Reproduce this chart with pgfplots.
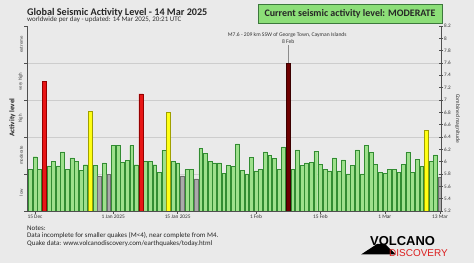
\documentclass[border=0pt]{standalone}
\usepackage{fontspec}
\setmainfont{Carlito}
\newfontfamily\logofont{Liberation Sans}
\usepackage{pgfplots}
\pgfplotsset{compat=1.18}
\definecolor{bg}{RGB}{234,234,234}
\definecolor{gridc}{RGB}{205,205,205}
\definecolor{axisc}{RGB}{80,80,80}
\definecolor{gfill}{RGB}{158,224,140}
\definecolor{gdraw}{RGB}{50,140,50}
\definecolor{grfill}{RGB}{170,170,170}
\definecolor{grdraw}{RGB}{110,110,110}
\definecolor{rfill}{RGB}{232,22,22}
\definecolor{rdraw}{RGB}{150,0,0}
\definecolor{yfill}{RGB}{255,255,20}
\definecolor{ydraw}{RGB}{160,160,0}
\definecolor{drfill}{RGB}{110,0,0}
\definecolor{drdraw}{RGB}{60,0,0}
\definecolor{boxfill}{RGB}{140,222,120}
\definecolor{boxdraw}{RGB}{60,120,60}
\definecolor{logored}{RGB}{220,30,30}
\begin{document}
\begin{tikzpicture}
\useasboundingbox (0bp,0bp) rectangle (474bp,263bp);
\fill[bg] (0bp,0bp) rectangle (474bp,263bp);
% title
\node[anchor=base west, inner sep=0pt, font=\bfseries\fontsize{10.2}{11}\selectfont, text=black!85] at (27bp,247.5bp) {Global Seismic Activity Level - 14 Mar 2025};
\node[anchor=base west, inner sep=0pt, font=\fontsize{7}{8}\selectfont, text=black!80] at (27bp,241.3bp) {worldwide per day - updated: 14 Mar 2025, 20:21 UTC};
% status box
\draw[fill=boxfill, draw=boxdraw, line width=0.6bp] (258bp,240bp) rectangle (442bp,259bp);
\node[font=\bfseries\fontsize{10}{11}\selectfont, text=black!85] at (350bp,249.5bp) {Current seismic activity level: MODERATE};
% activity label
\node[rotate=90, font=\bfseries\fontsize{7.2}{8}\selectfont, text=black!85] at (12.5bp,145.5bp) {Activity level};
\begin{axis}[
  at={(27bp,52bp)}, anchor=south west, scale only axis,
  width=414bp, height=185bp,
  xmin=0.26, xmax=90.2, ymin=5.2, ymax=8.2,
  axis x line*=bottom, axis y line*=left,
  axis line style={axisc, line width=0.6bp},
  tick style={axisc, line width=0.5bp},
  tick align=outside, major tick length=2.5bp,
  xtick={2,19,33,50,64,78,90},
  xticklabels={15 Dec, 1 Jan 2025, 15 Jan 2025, 1 Feb, 15 Feb, 1 Mar, 13 Mar},
  xticklabel style={font=\fontsize{5.4}{6}\selectfont, text=black!80, inner sep=1bp},
  ytick={5.2,5.8,6.4,7.0,7.6}, yticklabels={},
  ymajorgrids, grid style={gridc, line width=0.5bp},
  extra y ticks={8.2}, extra y tick labels={}, extra y tick style={grid=none},
  clip mode=individual,
]
\addplot[ybar, bar width=0.84, fill=gfill, draw=gdraw, line width=0.45bp] coordinates {
(1,5.87)(2,6.08)(3,5.87)(5,5.93)(6,6.01)(7,5.93)(8,6.16)(9,5.87)(10,6.06)(11,6.01)(12,5.86)(13,5.95)(15,5.94)(17,5.98)(19,6.26)(20,6.27)(21,5.99)(22,6.02)(23,6.26)(24,5.95)(26,6.01)(27,6.01)(28,5.95)(29,5.83)(30,6.18)(32,6.01)(33,5.98)(35,5.87)(36,5.88)(38,6.21)(39,6.14)(40,6.01)(41,5.98)(42,5.98)(43,5.81)(44,5.94)(45,5.92)(46,6.29)(47,5.86)(48,5.80)(49,6.07)(50,5.85)(51,5.88)(52,6.16)(53,6.10)(54,6.05)(55,5.88)(56,6.24)(58,5.88)(59,6.19)(60,5.94)(61,5.98)(62,5.99)(63,6.17)(64,5.96)(65,5.87)(66,5.85)(67,6.06)(68,5.85)(69,6.03)(70,5.80)(71,5.94)(72,6.19)(73,5.80)(74,6.26)(75,6.15)(76,5.96)(77,5.83)(78,5.81)(79,5.87)(80,5.88)(81,5.83)(82,5.96)(83,6.15)(84,5.83)(85,6.04)(86,5.92)(88,6.01)(89,6.11)
};
\addplot[ybar, bar width=0.84, fill=grfill, draw=grdraw, line width=0.45bp] coordinates {
(16,5.76)(18,5.79)(34,5.77)(37,5.72)(90,5.75)
};
\addplot[ybar, bar width=0.84, fill=rfill, draw=rdraw, line width=0.45bp] coordinates {
(4,7.30)(25,7.10)
};
\addplot[ybar, bar width=0.84, fill=yfill, draw=ydraw, line width=0.45bp] coordinates {
(14,6.81)(31,6.80)(87,6.51)
};
\addplot[ybar, bar width=0.84, fill=drfill, draw=drdraw, line width=0.45bp] coordinates {
(57,7.60)
};
\draw[black!45, line width=0.6bp] (axis cs:57,7.6) -- (axis cs:57,7.89);
\node[font=\fontsize{5.6}{6}\selectfont, text=black!80, inner sep=0pt] at (axis cs:56.8,8.05) {M7.6 - 209 km SSW of George Town, Cayman Islands};
\node[font=\fontsize{5.6}{6}\selectfont, text=black!80, inner sep=0pt] at (axis cs:57,7.955) {8 Feb};
\foreach \yy/\lab in {5.5/low,6.1/moderate,6.7/high,7.3/very high,7.9/extreme} {
  \edef\temp{\noexpand\node[rotate=90, anchor=south, inner sep=0pt, font=\noexpand\fontsize{4.8}{5}\noexpand\selectfont, text=black!75] at ([xshift=-4bp]axis cs:0.26,\yy) {\lab};}
  \temp
}
\end{axis}
\begin{axis}[
  at={(27bp,52bp)}, anchor=south west, scale only axis,
  width=414bp, height=185bp,
  xmin=0.26, xmax=90.2, ymin=5.2, ymax=8.2,
  axis x line=none, axis y line*=right,
  axis line style={axisc, line width=0.6bp},
  tick style={axisc, line width=0.5bp},
  tick align=center, major tick length=4bp,
  ytick={5.2,5.4,5.6,5.8,6,6.2,6.4,6.6,6.8,7,7.2,7.4,7.6,7.8,8,8.2},
  yticklabel style={font=\fontsize{5.2}{6}\selectfont, text=black!80, inner sep=1bp},
  /pgf/number format/assume math mode=true,
  ylabel={Combined magnitude},
  ylabel style={rotate=180, font=\fontsize{5.6}{6}\selectfont, text=black!80},
]
\addplot[draw=none] coordinates {(1,5.2)};
\end{axis}
% notes
\node[anchor=base west, inner sep=0pt, font=\fontsize{7}{8}\selectfont, text=black!85] at (27bp,32.5bp) {Notes:};
\node[anchor=base west, inner sep=0pt, font=\fontsize{7}{8}\selectfont, text=black!85] at (27bp,25.3bp) {Data incomplete for smaller quakes (M<4), near complete from M4.};
\node[anchor=base west, inner sep=0pt, font=\fontsize{7}{8}\selectfont, text=black!85] at (27bp,17.1bp) {Quake data: www.volcanodiscovery.com/earthquakes/today.html};
% logo
\fill[black] (361bp,8.5bp) -- (377bp,19bp) -- (385bp,19bp) -- (396bp,8.5bp) -- cycle;
\node[anchor=base west, inner sep=0pt, font=\logofont\bfseries\fontsize{13}{14}\selectfont, text=black] at (370bp,17.5bp) {VOLCANO};
\node[anchor=base west, inner sep=0pt, font=\logofont\fontsize{10}{11}\selectfont, text=logored] at (389bp,6.3bp) {DISCOVERY};
\end{tikzpicture}
\end{document}
